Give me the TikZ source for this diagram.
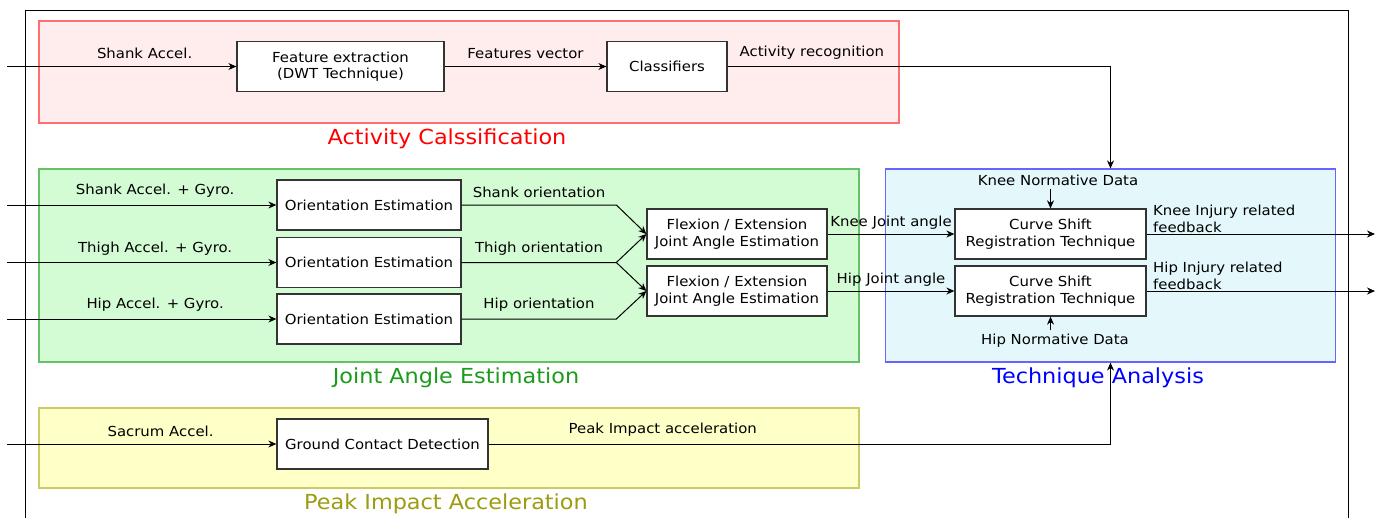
\documentclass[tikz,border=0pt]{standalone}
\usepackage{fontspec}
\setmainfont[FakeStretch=1.08]{DejaVu Sans}
\usetikzlibrary{arrows.meta, positioning}

\definecolor{boxline}{HTML}{333333}
\definecolor{redfill}{HTML}{FFECEC}
\definecolor{redline}{HTML}{FF6F6F}
\definecolor{greenfill}{HTML}{D4FCD4}
\definecolor{greenline}{HTML}{66C266}
\definecolor{greentext}{HTML}{1A9C1A}
\definecolor{bluefill}{HTML}{E4F8FC}
\definecolor{blueline}{HTML}{6666FF}
\definecolor{yellowfill}{HTML}{FFFFC8}
\definecolor{yellowline}{HTML}{CCCC66}
\definecolor{yellowtext}{HTML}{9C9C10}

\begin{document}
\begin{tikzpicture}[x=1pt, y=-1pt, >={Stealth[length=8pt, width=7pt]}, line width=1pt,
  every node/.style={font=\fontsize{13.8}{16.5}\selectfont},
  block/.style={draw=boxline, fill=white, line width=1.3pt, minimum height=50pt, align=center, inner sep=2pt},
  region/.style={line width=1.2pt, inner sep=0pt},
  title/.style={font=\fontsize{20.7}{24}\selectfont},
  lbl/.style={above=5pt, inner sep=2pt}]
  \useasboundingbox (0,0) rectangle (1380,517);
  \fill[white] (0,0) rectangle (1380,517);
  \draw (25,10) rectangle (1348,540);

  % regions
  \node[region, draw=redline, fill=redfill, minimum width=860pt, minimum height=102pt] (ac) at (469,72) {};
  \node[region, draw=greenline, fill=greenfill, minimum width=820pt, minimum height=193pt] (ja) at (449,265.5) {};
  \node[region, draw=blueline, fill=bluefill, minimum width=450pt, minimum height=193pt] (ta) at (1110.5,265.5) {};
  \node[region, draw=yellowline, fill=yellowfill, minimum width=820pt, minimum height=80pt] (pi) at (449,448) {};
  \node[title, text=red] at (447,139) {Activity Calssification};
  \node[title, text=greentext] at (456,378) {Joint Angle Estimation};
  \node[title, text=blue] at (1098,378) {Technique Analysis};
  \node[title, text=yellowtext] at (446,504) {Peak Impact Acceleration};

  % blocks
  \node[block, minimum width=207pt] (fe) at (340.5,66.5) {Feature extraction\\(DWT Technique)};
  \node[block, minimum width=120pt] (cls) at (667,66.5) {Classifiers};
  \node[block, minimum width=184pt] (o1) at (369,205) {Orientation Estimation};
  \node[block, minimum width=184pt] (o2) at (369,262.5) {Orientation Estimation};
  \node[block, minimum width=184pt] (o3) at (369,319) {Orientation Estimation};
  \node[block, minimum width=180pt] (f1) at (737,234) {Flexion / Extension\\Joint Angle Estimation};
  \node[block, minimum width=180pt] (f2) at (737,291) {Flexion / Extension\\Joint Angle Estimation};
  \node[block, minimum width=191pt] (c1) at (1050.5,234) {Curve Shift\\Registration Technique};
  \node[block, minimum width=191pt] (c2) at (1050.5,291) {Curve Shift\\Registration Technique};
  \node[block, minimum width=211pt] (gcd) at (382.5,444) {Ground Contact Detection};
  \node (kn) at (1058,180) {Knee Normative Data};
  \node (hn) at (1055,341) {Hip Normative Data};

  % free ends
  \coordinate (in0) at (7,66.5);
  \coordinate (in1) at (7,205);
  \coordinate (in2) at (7,262.5);
  \coordinate (in3) at (7,319);
  \coordinate (in4) at (7,444);
  \coordinate (kout) at (1375,234);
  \coordinate (hout) at (1375,291);

  \path[->]
    (in0) edge node[lbl, pos=0.6] {Shank Accel.} (fe)
    (fe) edge node[lbl] {Features vector} (cls)
    (in1) edge node[lbl, pos=0.55] {Shank Accel. + Gyro.} (o1)
    (in2) edge node[lbl, pos=0.55] {Thigh Accel. + Gyro.} (o2)
    (in3) edge node[lbl, pos=0.55] {Hip Accel. + Gyro.} (o3)
    (in4) edge node[lbl, pos=0.57] {Sacrum Accel.} (gcd)
    (f1) edge node[lbl, above=2pt] {Knee Joint angle} (c1)
    (f2) edge node[lbl, above=2pt] {Hip Joint angle} (c2)
    (c1) edge node[pos=0, above right, align=left, inner sep=1pt, xshift=5pt] {Knee Injury related\\feedback} (kout)
    (c2) edge node[pos=0, above right, align=left, inner sep=1pt, xshift=5pt] {Hip Injury related\\feedback} (hout);

  \draw[->] (o1) -- node[lbl] {Shank orientation} ([xshift=-30pt]f1.west |- o1) -- (f1.west);
  \draw[->] (o2) -- node[lbl] {Thigh orientation} ([xshift=-30pt]f1.west |- o2) -- (f1.west);
  \draw[->] ([xshift=-30pt]f1.west |- o2) -- (f2.west);
  \draw[->] (o3) -- node[lbl] {Hip orientation} ([xshift=-30pt]f2.west |- o3) -- (f2.west);
  \draw[->] (cls) -| node[lbl, pos=0.11] {Activity recognition} (ta);
  \draw[->] (gcd) -| node[lbl, pos=0.14] {Peak Impact acceleration} (ta);
  \draw[->] (c1.north |- kn.south) -- (c1);
  \draw[->] (c2.south |- hn.north) -- (c2);
\end{tikzpicture}
\end{document}
